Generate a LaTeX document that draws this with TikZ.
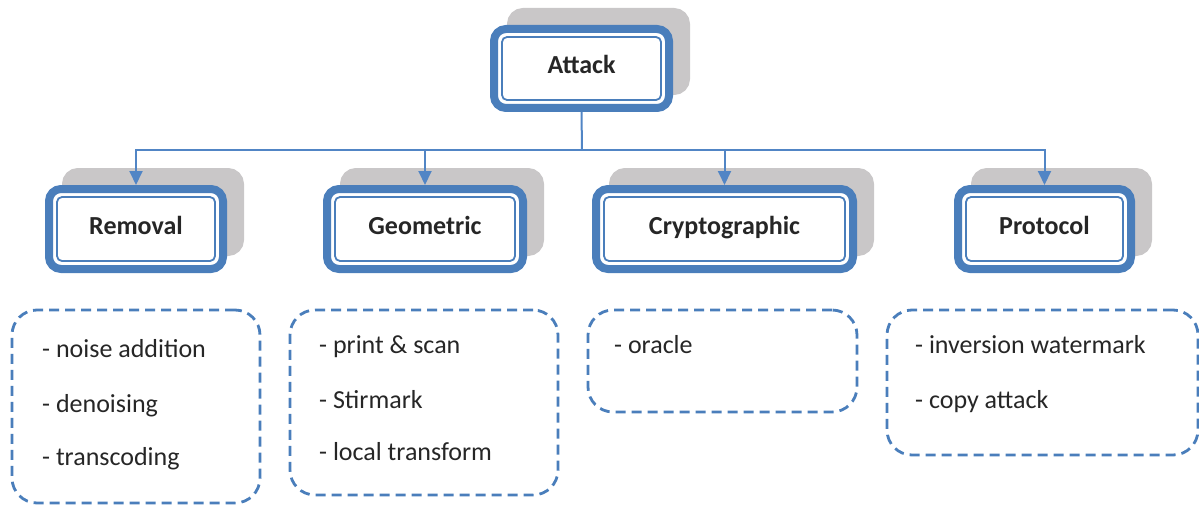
\documentclass[tikz,border=0pt]{standalone}
\usepackage{fontspec}
\setmainfont{Carlito}
\usetikzlibrary{arrows.meta}
\definecolor{boxblue}{HTML}{4A7EBB}
\definecolor{linkblue}{HTML}{5185C5}
\definecolor{shadowgray}{HTML}{C9C7C8}
\definecolor{inkgray}{HTML}{262626}
\begin{document}
\begin{tikzpicture}[x=1pt,y=-1pt,
  kindbox/.style={draw=boxblue, line width=8pt, rounded corners=12pt, fill=white,
    inner sep=0pt, minimum height=80pt, text height=16pt, text depth=6pt,
    text=inkgray, font=\fontsize{26}{30}\selectfont\bfseries,
    preaction={draw=shadowgray, fill=shadowgray, transform canvas={shift={(17pt,17pt)}}},
    path picture={\draw[draw=boxblue, line width=1.8pt, rounded corners=5pt]
      ([shift={(8pt,-8pt)}]path picture bounding box.north west) rectangle
      ([shift={(-8pt,8pt)}]path picture bounding box.south east);}},
  listbox/.style={draw=boxblue, line width=2.8pt, dash pattern=on 10pt off 6pt, rounded corners=25pt},
  item/.style={anchor=base west, inner sep=0pt, text=inkgray, font=\fontsize{26}{30}\selectfont},
  link/.style={draw=linkblue, line width=2pt}]
\useasboundingbox (0,0) rectangle (1199,508);
% the attack and its four kinds
\node[kindbox, minimum width=175pt, minimum height=79pt] (attack) at (581.5,68.5) {Attack};
\node[kindbox, minimum width=174pt] (removal) at (136,229) {Removal};
\node[kindbox, minimum width=196pt] (geometric) at (425,229) {Geometric};
\node[kindbox, minimum width=257pt] (crypto) at (724.5,229) {Cryptographic};
\node[kindbox, minimum width=173pt] (protocol) at (1044.5,229) {Protocol};
% connectors
\coordinate (bus) at (582,150);
\draw[link] (attack.south) -- (bus);
\draw[link,-{Triangle[length=14pt,width=13pt]}] (bus) -| (removal.north);
\draw[link,-{Triangle[length=14pt,width=13pt]}] (bus) -| (geometric.north);
\draw[link,-{Triangle[length=14pt,width=13pt]}] (bus) -| (crypto.north);
\draw[link,-{Triangle[length=14pt,width=13pt]}] (bus) -| (protocol.north);
% lists of attacks
\node[listbox, minimum width=248pt, minimum height=193pt] (removallist) at (136,406.5) {};
\node[item] (noise) at (42,357) {- noise addition};
\node[item] (denoise) at (42,412) {- denoising};
\node[item] (transcode) at (42,465) {- transcoding};
\node[listbox, minimum width=268pt, minimum height=185pt] (geometriclist) at (424,402.5) {};
\node[item] (print) at (319,353) {- print \& scan};
\node[item] (stirmark) at (319,408) {- Stirmark};
\node[item] (local) at (319,460) {- local transform};
\node[listbox, minimum width=269pt, minimum height=102pt] (cryptolist) at (722.5,361) {};
\node[item] (oracle) at (614,353) {- oracle};
\node[listbox, minimum width=311pt, minimum height=145pt] (protocollist) at (1042.5,382.5) {};
\node[item] (inversion) at (915,353) {- inversion watermark};
\node[item] (copy) at (915,408) {- copy attack};
\end{tikzpicture}
\end{document}
